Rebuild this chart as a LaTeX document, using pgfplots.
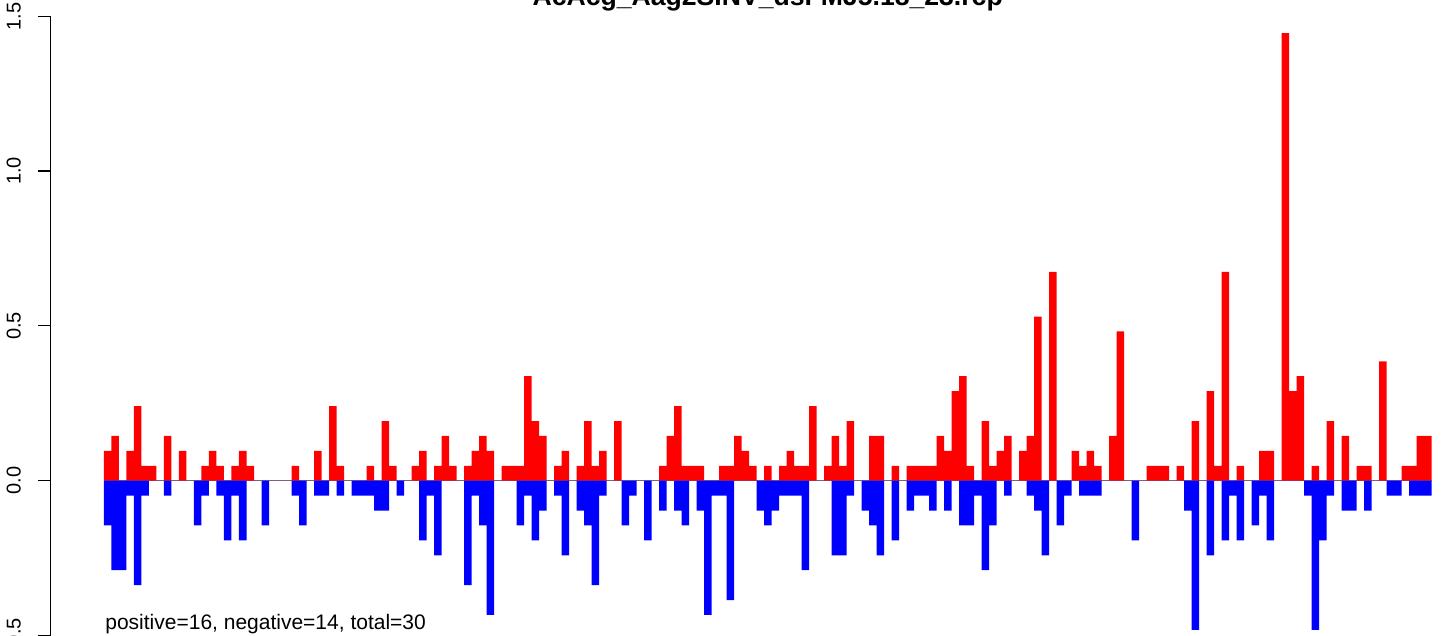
\documentclass[border=0pt]{standalone}
\usepackage{pgfplots}
\pgfplotsset{compat=1.18}
\usepackage{pgfplotstable}
\usepackage{fontspec}
\setmainfont{Liberation Sans}
\definecolor{rred}{HTML}{FF0000}
\definecolor{rblue}{HTML}{0000FF}
\pgfplotstableread{
x pos neg
0 0.0964 -0.1446
1 0.1446 -0.2892
2 0 -0.2892
3 0.0964 -0.0482
4 0.241 -0.3374
5 0.0482 -0.0482
6 0.0482 0
7 0 0
8 0.1446 -0.0482
9 0 0
10 0.0964 0
11 0 0
12 0 -0.1446
13 0.0482 -0.0482
14 0.0964 0
15 0.0482 -0.0482
16 0 -0.1928
17 0.0482 -0.0482
18 0.0964 -0.1928
19 0.0482 0
20 0 0
21 0 -0.1446
22 0 0
23 0 0
24 0 0
25 0.0482 -0.0482
26 0 -0.1446
27 0 0
28 0.0964 -0.0482
29 0 -0.0482
30 0.241 0
31 0.0482 -0.0482
32 0 0
33 0 -0.0482
34 0 -0.0482
35 0.0482 -0.0482
36 0 -0.0964
37 0.1928 -0.0964
38 0.0482 0
39 0 -0.0482
40 0 0
41 0.0482 0
42 0.0964 -0.1928
43 0 -0.0482
44 0.0482 -0.241
45 0.1446 0
46 0.0482 0
47 0 0
48 0.0482 -0.3374
49 0.0964 -0.0482
50 0.1446 -0.1446
51 0.0964 -0.4338
52 0 0
53 0.0482 0
54 0.0482 0
55 0.0482 -0.1446
56 0.3374 -0.0482
57 0.1928 -0.1928
58 0.1446 -0.0964
59 0 0
60 0.0482 -0.0482
61 0.0964 -0.241
62 0 0
63 0.0482 -0.0964
64 0.1928 -0.1446
65 0.0482 -0.3374
66 0.0964 -0.0482
67 0 0
68 0.1928 0
69 0 -0.1446
70 0 -0.0482
71 0 0
72 0 -0.1928
73 0 0
74 0.0482 -0.0964
75 0.1446 0
76 0.241 -0.0964
77 0.0482 -0.1446
78 0.0482 0
79 0.0482 -0.0964
80 0 -0.4338
81 0 -0.0482
82 0.0482 -0.0482
83 0.0482 -0.3856
84 0.1446 0
85 0.0964 0
86 0.0482 0
87 0 -0.0964
88 0.0482 -0.1446
89 0 -0.0964
90 0.0482 -0.0482
91 0.0964 -0.0482
92 0.0482 -0.0482
93 0.0482 -0.2892
94 0.241 0
95 0 0
96 0.0482 0
97 0.1446 -0.241
98 0.0482 -0.241
99 0.1928 -0.0482
100 0 0
101 0 -0.0964
102 0.1446 -0.1446
103 0.1446 -0.241
104 0 0
105 0.0482 -0.1928
106 0 0
107 0.0482 -0.0964
108 0.0482 -0.0482
109 0.0482 -0.0482
110 0.0482 -0.0964
111 0.1446 0
112 0.0964 -0.0964
113 0.2892 0
114 0.3374 -0.1446
115 0.0482 -0.1446
116 0 -0.0482
117 0.1928 -0.2892
118 0.0482 -0.1446
119 0.0964 0
120 0.1446 -0.0482
121 0 0
122 0.0964 0
123 0.1446 -0.0482
124 0.5302 -0.0964
125 0 -0.241
126 0.6748 0
127 0 -0.1446
128 0 -0.0482
129 0.0964 0
130 0.0482 -0.0482
131 0.0964 -0.0482
132 0.0482 -0.0482
133 0 0
134 0.1446 0
135 0.482 0
136 0 0
137 0 -0.1928
138 0 0
139 0.0482 0
140 0.0482 0
141 0.0482 0
142 0 0
143 0.0482 0
144 0 -0.0964
145 0.1928 -0.482
146 0 0
147 0.2892 -0.241
148 0.0482 0
149 0.6748 -0.1928
150 0 -0.0482
151 0.0482 -0.1928
152 0 0
153 0 -0.1446
154 0.0964 -0.0482
155 0.0964 -0.1928
156 0 0
157 1.446 0
158 0.2892 0
159 0.3374 0
160 0 -0.0482
161 0.0482 -0.482
162 0 -0.1928
163 0.1928 -0.0482
164 0 0
165 0.1446 -0.0964
166 0 -0.0964
167 0.0482 0
168 0.0482 -0.0964
169 0 0
170 0.3856 0
171 0 -0.0482
172 0 -0.0482
173 0.0482 0
174 0.0482 -0.0482
175 0.1446 -0.0482
176 0.1446 -0.0482
}\bars
\begin{document}
\begin{tikzpicture}
\begin{axis}[
  at={(0,0)}, anchor=south west,
  scale only axis, width=716.85pt, height=309.6pt,
  xmin=-7.58, xmax=183.58, ymin=-0.5, ymax=1.5,
  hide x axis,
  axis y line*=left,
  clip=false,
  ytick={-0.5,0,0.5,1,1.5},
  yticklabels={-0.5,0.0,0.5,1.0,1.5},
  tick align=outside,
  major tick length=6.5pt,
  y axis line style={black, line width=0.6pt},
  ytick style={black, line width=0.6pt},
  yticklabel style={rotate=90, anchor=south, inner xsep=0pt, inner ysep=8.3pt, font=\fontsize{10}{11}\selectfont},
]
\addplot[draw=gray, line width=0.6pt, forget plot] coordinates {(-0.5,0) (176.5,0)};
\addplot[ybar, bar width=1, bar shift=0pt, fill=rred, draw=none] table[x=x,y=pos]{\bars};
\addplot[ybar, bar width=1, bar shift=0pt, fill=rblue, draw=none] table[x=x,y=neg]{\bars};
\node[anchor=base, inner sep=0pt, font=\fontsize{13.3}{14}\selectfont\bfseries] at (axis cs:88,1.5348) {AcAcg\_Aag2SINV\_dsFMJ5.18\_23.rcp};
\node[anchor=base west, inner sep=0pt, font=\fontsize{10.5}{12}\selectfont] at (axis cs:-0.37,-0.482) {positive=16, negative=14, total=30};
\end{axis}
\pgfresetboundingbox
\useasboundingbox (-25.45pt,-0.25pt) rectangle (695.05pt,317.75pt);
\end{tikzpicture}
\end{document}
